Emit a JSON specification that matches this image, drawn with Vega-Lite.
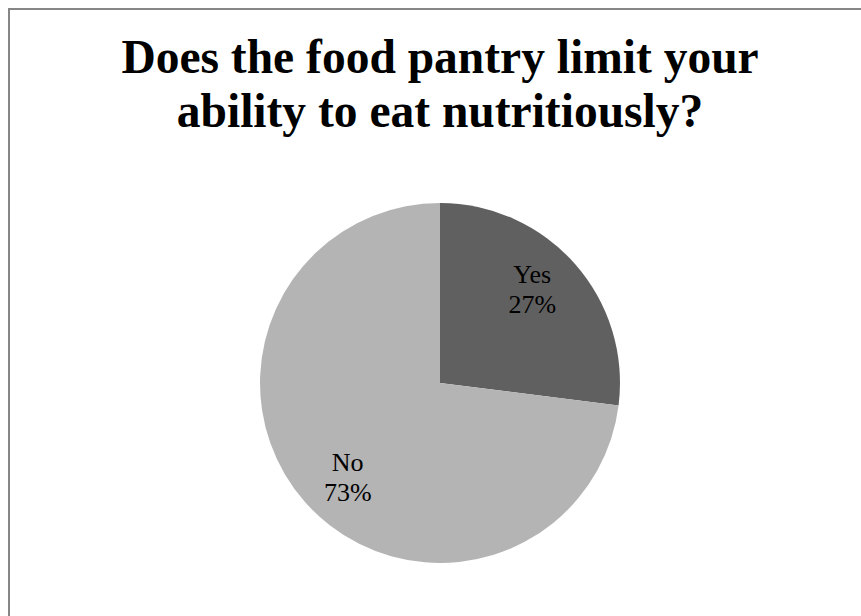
{
  "$schema": "https://vega.github.io/schema/vega-lite/v6.json",
  "autosize": "none",
  "padding": {"left": 9, "top": 9, "right": 0, "bottom": 0},
  "width": 862,
  "height": 748,
  "background": "white",
  "view": {"stroke": "#868686", "strokeWidth": 2},
  "config": {"view": {"stroke": "#868686", "strokeWidth": 2}},
  "title": {
    "text": ["Does the food pantry limit your", "ability to eat nutritiously?"],
    "font": "Liberation Serif",
    "fontSize": 47.5,
    "fontWeight": "bold",
    "color": "black",
    "lineHeight": 54,
    "anchor": "middle",
    "baseline": "alphabetic",
    "offset": -165
  },
  "data": {
    "values": [
      {"answer": "Yes", "percent": 27, "order": 1, "label": "Yes\n27%"},
      {"answer": "No", "percent": 73, "order": 2, "label": "No\n73%"}
    ]
  },
  "encoding": {
    "theta": {"field": "percent", "type": "quantitative", "stack": true},
    "order": {"field": "order", "type": "quantitative"}
  },
  "layer": [
    {
      "mark": {"type": "arc", "outerRadius": 180},
      "encoding": {
        "color": {
          "field": "answer",
          "type": "nominal",
          "scale": {"domain": ["Yes", "No"], "range": ["#606060", "#b4b4b4"]},
          "legend": null
        }
      }
    },
    {
      "mark": {"type": "text", "radius": 131, "font": "Liberation Serif", "fontSize": 26, "lineHeight": 30, "baseline": "middle", "align": "center", "color": "black", "dx": -6, "dy": -21, "lineBreak": "\n"},
      "encoding": {
        "text": {"field": "label", "type": "nominal"},
        "opacity": {"condition": {"test": "datum.answer === 'Yes'", "value": 1}, "value": 0}
      }
    },
    {
      "mark": {"type": "text", "radius": 131, "font": "Liberation Serif", "fontSize": 26, "lineHeight": 30, "baseline": "middle", "align": "center", "color": "black", "dx": 6, "dy": -7, "lineBreak": "\n"},
      "encoding": {
        "text": {"field": "label", "type": "nominal"},
        "opacity": {"condition": {"test": "datum.answer === 'No'", "value": 1}, "value": 0}
      }
    }
  ]
}
